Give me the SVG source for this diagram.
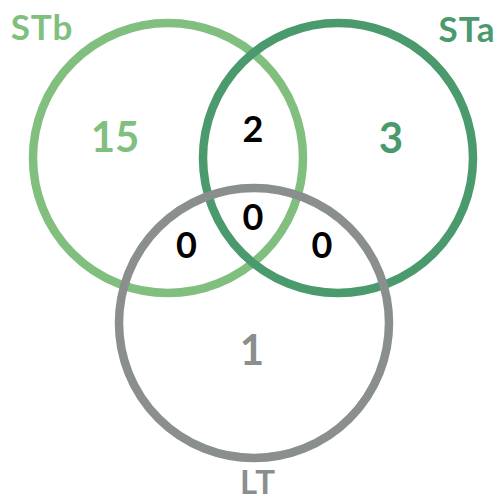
<svg xmlns="http://www.w3.org/2000/svg" width="498" height="502" viewBox="0 0 498 502">
  <style>
    .ring { fill: none; stroke-width: 8.5; }
    .lbl { font-family: Lato, "Liberation Sans", sans-serif; font-weight: 700; text-anchor: middle; }
    .set { font-size: 35px; letter-spacing: 1px; }
    .big { font-size: 42px; }
    .num { font-size: 36px; fill: #000000; }
    .g1 { stroke: #80BF7E; }
    .g2 { stroke: #4A9A6E; }
    .g3 { stroke: #8A8F8E; }
    .t1 { fill: #80BF7E; }
    .t2 { fill: #4A9A6E; }
    .t3 { fill: #8A8F8E; }
  </style>
  <rect x="0" y="0" width="498" height="502" fill="#ffffff"/>
  <g id="STb">
    <circle class="ring g1" cx="168" cy="158" r="135"/>
    <text class="lbl set t1" x="42" y="40">STb</text>
    <text class="lbl big t1" x="115" y="152">15</text>
  </g>
  <g id="STa">
    <circle class="ring g2" cx="338" cy="158" r="135"/>
    <text class="lbl set t2" x="467" y="42">STa</text>
    <text class="lbl big t2" x="391" y="153">3</text>
  </g>
  <g id="LT">
    <circle class="ring g3" cx="254" cy="323" r="135"/>
    <text class="lbl set t3" x="258" y="494" style="font-size:33px">LT</text>
    <text class="lbl big t3" x="252" y="365">1</text>
  </g>
  <g id="intersections">
    <text class="lbl num" x="253" y="142">2</text>
    <text class="lbl num" x="253" y="230">0</text>
    <text class="lbl num" x="186.5" y="258">0</text>
    <text class="lbl num" x="322" y="258">0</text>
  </g>
</svg>
